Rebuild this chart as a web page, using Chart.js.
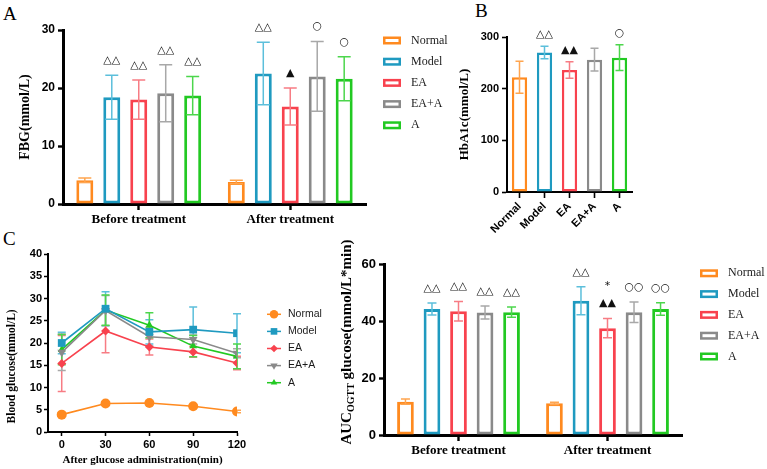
<!DOCTYPE html>
<html>
<head>
<meta charset="utf-8">
<script src="https://cdn.jsdelivr.net/npm/chart.js@4.4.1/dist/chart.umd.min.js"></script>
<style>
  body { margin: 0; width: 767px; height: 469px; background: #fff; position: relative; overflow: hidden; }
  canvas { position: absolute; }
  .panel { position: absolute; font-family: 'Liberation Serif', serif; font-size: 19px; line-height: 1; color: #000; }
</style>
</head>
<body>
<div class="panel" style="left:3px;top:4px">A</div>
<div class="panel" style="left:475px;top:1px">B</div>
<div class="panel" style="left:3px;top:229px">C</div>
<canvas id="chartA" width="470" height="232" style="left:0;top:0"></canvas>
<canvas id="chartB" width="200" height="240" style="left:440px;top:0"></canvas>
<canvas id="chartC" width="340" height="237" style="left:0;top:232px"></canvas>
<canvas id="chartD" width="437" height="244" style="left:330px;top:225px"></canvas>
<script>
const serif = "'Liberation Serif', 'Times New Roman', serif";
const sans = "'Liberation Sans', Arial, sans-serif";

const groups = ['Normal', 'Model', 'EA', 'EA+A', 'A'];
const phases = ['Before treatment', 'After treatment'];
const colors = ['#FF8A1F', '#1F9AC0', '#F8424E', '#8A8A8A', '#22C922'];
const errColors = ['#FFA54F', '#5CBFDB', '#F77C84', '#A8A8A8', '#4CD64C'];

// A: FBG
const fbgBefore = [4.1, 18.4, 18.0, 19.1, 18.7];
const fbgBeforeSd = [0.4, 3.8, 3.4, 4.9, 3.3];
const fbgAfter = [3.8, 22.5, 16.8, 22.0, 21.6];
const fbgAfterSd = [0.3, 5.4, 3.2, 6.0, 3.8];
const fbgBeforeMarks = ['', '△△', '△△', '△△', '△△'];
const fbgAfterMarks = ['', '△△', '▲', '○', '○'];
const fbgTicks = [0, 10, 20, 30];

// B: HbA1c
const hba1c = [222, 270, 236, 256, 260];
const hba1cSd = [31, 12, 16, 22, 25];
const hba1cMarks = ['', '△△', '▲▲', '', '○'];
const hba1cTicks = [0, 100, 200, 300];

// C: OGTT curves
const ogttTimes = [0, 30, 60, 90, 120];
const ogttNormal = [3.9, 6.4, 6.5, 5.8, 4.6];
const ogttNormalSd = [0.3, 0.3, 0.3, 0.3, 0.3];
const ogttModel = [20.0, 27.7, 22.5, 23.0, 22.2];
const ogttModelSd = [2.4, 3.8, 2.7, 5.1, 4.4];
const ogttEA = [15.4, 22.7, 19.1, 18.0, 15.5];
const ogttEASd = [6.3, 4.9, 1.8, 1.2, 1.5];
const ogttEAA = [17.9, 27.3, 21.4, 20.8, 17.7];
const ogttEAASd = [4.1, 3.4, 2.1, 1.0, 1.0];
const ogttA = [18.5, 27.4, 24.0, 19.3, 17.0];
const ogttASd = [3.4, 3.4, 2.8, 2.4, 2.8];
const ogttTicksY = [0, 5, 10, 15, 20, 25, 30, 35, 40];

// D: AUC of OGTT
const aucBefore = [11.7, 44.2, 43.4, 43.0, 43.1];
const aucBeforeSd = [0.9, 2.1, 3.4, 2.3, 1.8];
const aucAfter = [11.1, 47.1, 37.5, 43.1, 44.2];
const aucAfterSd = [0.4, 4.9, 3.4, 3.6, 2.2];
const aucBeforeMarks = ['', '△△', '△△', '△△', '△△'];
const aucAfterMarks = ['', '△△', '*\n▲▲', '○○', '○○'];
const aucTicks = [0, 20, 40, 60];
const aucTitle = ['AUC', 'OGTT', ' glucose(mmol/L*min)'];

function drawErrors(chart, o) {
    const ctx = chart.ctx
    const y = chart.scales.y
    ctx.save()
    chart.data.datasets.forEach((ds, i) => {
        if (!ds.sd) return
        chart.getDatasetMeta(i).data.forEach((el, j) => {
            const v = ds.data[j], sd = ds.sd[j]
            const x = el.x
            const t = y.getPixelForValue(v + sd), b = y.getPixelForValue(v - sd)
            ctx.strokeStyle = Array.isArray(ds.errColor) ? ds.errColor[j] : ds.errColor
            ctx.lineWidth = o.lineWidth
            ctx.beginPath()
            ctx.moveTo(x, t); ctx.lineTo(x, b)
            ctx.moveTo(x - o.cap, t); ctx.lineTo(x + o.cap, t)
            ctx.moveTo(x - o.cap, b); ctx.lineTo(x + o.cap, b)
            ctx.stroke()
            const m = ds.marks && ds.marks[j]
            if (m) {
                ctx.fillStyle = '#111'
                ctx.font = o.markFont
                ctx.textAlign = 'center'
                ctx.textBaseline = 'middle'
                m.split('\n').reverse().forEach((line, k) => {
                    ctx.fillText(line, x, t - o.markGap - k * o.markLine)
                })
            }
        })
    })
    ctx.restore()
}

const errorBars = {
    id: 'errorBars',
    beforeDatasetsDraw(chart, args, o) { if (o.behind) drawErrors(chart, o) },
    afterDatasetsDraw(chart, args, o) { if (!o.behind) drawErrors(chart, o) }
};

const sideLegend = {
    id: 'sideLegend',
    afterDraw(chart, args, o) {
        if (!o.display) return
        const ctx = chart.ctx
        ctx.save()
        ctx.font = o.font
        ctx.textBaseline = 'middle'
        ctx.textAlign = 'left'
        chart.data.datasets.forEach((ds, i) => {
            const y = o.y + i * o.step
            ctx.strokeStyle = ds.borderColor
            ctx.fillStyle = ds.borderColor
            if (o.marker) {
                ctx.lineWidth = 1.5
                ctx.beginPath(); ctx.moveTo(o.x, y); ctx.lineTo(o.x + o.w, y); ctx.stroke()
                Chart.helpers.drawPoint(ctx, {
                    pointStyle: ds.pointStyle, radius: ds.pointRadius * 0.85,
                    rotation: ds.pointRotation || 0, borderWidth: 0
                }, o.x + o.w / 2, y)
            } else {
                ctx.lineWidth = 2.5
                ctx.strokeRect(o.x + 1.25, y - 2.75, o.w - 2.5, 5.5)
            }
            ctx.fillStyle = '#1a1a1a'
            ctx.fillText(ds.label, o.textX, y)
        })
        ctx.restore()
    }
};

const subTitle = {
    id: 'subTitle',
    afterDraw(chart, args, o) {
        if (!o.display) return
        const ctx = chart.ctx
        const big = 'bold ' + o.size + 'px ' + serif
        const small = 'bold ' + Math.round(o.size * 0.68) + 'px ' + serif
        const parts = [[aucTitle[0], big, 0], [aucTitle[1], small, o.size * 0.3], [aucTitle[2], big, 0]]
        ctx.save()
        let total = 0
        parts.forEach(p => { ctx.font = p[1]; p.push(ctx.measureText(p[0]).width); total += p[3] })
        ctx.translate(o.x, o.y)
        ctx.rotate(-Math.PI / 2)
        ctx.fillStyle = '#000'
        ctx.textBaseline = 'middle'
        ctx.textAlign = 'left'
        let cx = -total / 2
        parts.forEach(p => { ctx.font = p[1]; ctx.fillText(p[0], cx, p[2]); cx += p[3] })
        ctx.restore()
    }
};

function yAxis(ticks, width, title, titleSize, titlePad, borderW, tickFont) {
    return {
        min: ticks[0], max: ticks[ticks.length - 1],
        afterBuildTicks: s => { s.ticks = ticks.map(v => ({ value: v })) },
        afterFit: s => { s.width = width },
        border: { color: '#000', width: borderW },
        grid: { drawOnChartArea: false, color: '#000', tickLength: 5, tickWidth: borderW * 0.8 },
        ticks: { color: '#000', font: { family: sans, size: tickFont, weight: 'bold' }, padding: 3 },
        title: {
            display: !!title, text: title, color: '#000',
            font: { family: serif, size: titleSize, weight: 'bold' },
            padding: { top: titlePad, bottom: 0 }
        }
    }
}

function catAxis(height, borderW, font, rotation) {
    return {
        afterFit: s => { s.height = height },
        border: { color: '#000', width: borderW },
        grid: { offset: false, drawOnChartArea: false, color: '#000', tickLength: 6, tickWidth: borderW * 0.8 },
        ticks: { color: '#000', font: font, padding: 2, minRotation: rotation, maxRotation: rotation }
    }
}

function barSets(before, beforeSd, after, afterSd, beforeMarks, afterMarks) {
    return groups.map((g, i) => ({
        label: g,
        data: [before[i], after[i]],
        sd: [beforeSd[i], afterSd[i]],
        marks: [beforeMarks[i], afterMarks[i]],
        borderColor: colors[i],
        errColor: errColors[i],
        backgroundColor: '#fff',
        borderWidth: 3,
        borderSkipped: false,
        categoryPercentage: 0.89,
        barPercentage: 0.63
    }))
}

const base = { responsive: false, animation: false, events: [] };

new Chart(document.getElementById('chartA'), {
    type: 'bar',
    data: { labels: phases, datasets: barSets(fbgBefore, fbgBeforeSd, fbgAfter, fbgAfterSd, fbgBeforeMarks, fbgAfterMarks) },
    options: {
        ...base,
        layout: { padding: { top: 30, right: 104, left: 0, bottom: 0 } },
        scales: {
            x: catAxis(28, 3, { family: serif, size: 13, weight: 'bold' }, 0),
            y: yAxis(fbgTicks, 63, 'FBG(mmol/L)', 14, 17, 3, 12)
        },
        plugins: {
            legend: { display: false }, tooltip: { enabled: false },
            errorBars: { cap: 6.5, lineWidth: 1.5, markGap: 15, markLine: 17, markFont: "11px 'DejaVu Sans'" },
            sideLegend: { display: true, x: 383, w: 18, textX: 411, y: 40.5, step: 21.2, font: '12px ' + serif }
        }
    },
    plugins: [errorBars, sideLegend]
});

new Chart(document.getElementById('chartB'), {
    type: 'bar',
    data: {
        labels: groups,
        datasets: [{
            label: 'HbA1c', data: hba1c, sd: hba1cSd, marks: hba1cMarks,
            borderColor: colors, errColor: errColors, backgroundColor: '#fff',
            borderWidth: 2.5, borderSkipped: false, categoryPercentage: 1, barPercentage: 0.61
        }]
    },
    options: {
        ...base,
        layout: { padding: { top: 37, right: 8, left: 0, bottom: 0 } },
        scales: {
            x: catAxis(48, 2, { family: sans, size: 11, weight: 'bold' }, 45),
            y: yAxis(hba1cTicks, 67, 'HbA1c(mmol/L)', 13, 17, 2, 11)
        },
        plugins: {
            legend: { display: false }, tooltip: { enabled: false },
            errorBars: { cap: 4, lineWidth: 1.5, markGap: 12, markLine: 16, markFont: "11px 'DejaVu Sans'" }
        }
    },
    plugins: [errorBars]
});

const ogttSeries = [ogttNormal, ogttModel, ogttEA, ogttEAA, ogttA];
const ogttSds = [ogttNormalSd, ogttModelSd, ogttEASd, ogttEAASd, ogttASd];
const pointStyles = ['circle', 'rect', 'rectRot', 'triangle', 'triangle'];
const pointRotations = [0, 0, 0, 180, 0];
const pointRadii = [5, 5.5, 4.5, 5, 4.5];

new Chart(document.getElementById('chartC'), {
    type: 'line',
    data: {
        labels: ogttTimes,
        datasets: groups.map((g, i) => ({
            label: g,
            data: ogttSeries[i],
            sd: ogttSds[i],
            borderColor: colors[i],
            backgroundColor: colors[i],
            errColor: errColors[i],
            pointStyle: pointStyles[i],
            pointRotation: pointRotations[i],
            pointRadius: pointRadii[i],
            pointBorderWidth: 0,
            borderWidth: 1.6,
            tension: 0
        }))
    },
    options: {
        ...base,
        layout: { padding: { top: 22, right: 103, left: 0, bottom: 0 } },
        scales: {
            x: {
                type: 'linear', min: -9.4, max: 120,
                afterBuildTicks: s => { s.ticks = ogttTimes.map(v => ({ value: v })) },
                afterFit: s => { s.height = 37 },
                border: { color: '#000', width: 2 },
                grid: { drawOnChartArea: false, color: '#000', tickLength: 4, tickWidth: 1.5 },
                ticks: { color: '#000', font: { family: sans, size: 11, weight: 'bold' }, padding: 2 },
                title: {
                    display: true, text: 'After glucose administration(min)', color: '#000',
                    font: { family: serif, size: 11, weight: 'bold' }, padding: { top: 0, bottom: 2 }
                }
            },
            y: {
                min: 0, max: 40,
                afterBuildTicks: s => { s.ticks = ogttTicksY.map(v => ({ value: v })) },
                afterFit: s => { s.width = 48 },
                border: { color: '#000', width: 2 },
                grid: { drawOnChartArea: false, color: '#000', tickLength: 4, tickWidth: 1.5 },
                ticks: { color: '#000', font: { family: sans, size: 11, weight: 'bold' }, padding: 2 },
                title: {
                    display: true, text: '   Blood glucose(mmol/L)', color: '#000', align: 'start',
                    font: { family: serif, size: 11.5, weight: 'bold' }, padding: { top: 5, bottom: 0 }
                }
            }
        },
        plugins: {
            legend: { display: false }, tooltip: { enabled: false },
            errorBars: { behind: true, cap: 4, lineWidth: 1.5, markGap: 0, markLine: 0, markFont: '10px sans-serif' },
            sideLegend: { display: true, marker: true, x: 267, w: 14, textX: 288, y: 82.3, step: 17.1, font: '10.5px ' + sans }
        }
    },
    plugins: [errorBars, sideLegend]
});

new Chart(document.getElementById('chartD'), {
    type: 'bar',
    data: { labels: phases, datasets: barSets(aucBefore, aucBeforeSd, aucAfter, aucAfterSd, aucBeforeMarks, aucAfterMarks) },
    options: {
        ...base,
        layout: { padding: { top: 39, right: 85, left: 0, bottom: 0 } },
        scales: {
            x: catAxis(34, 3, { family: serif, size: 13, weight: 'bold' }, 0),
            y: yAxis(aucTicks, 54, '', 14, 0, 3, 13)
        },
        plugins: {
            legend: { display: false }, tooltip: { enabled: false },
            errorBars: { cap: 4.5, lineWidth: 1.5, markGap: 15, markLine: 17, markFont: "11px 'DejaVu Sans'" },
            sideLegend: { display: true, x: 370, w: 18, textX: 398, y: 48.3, step: 20.8, font: '12px ' + serif },
            subTitle: { display: true, x: 17, y: 117, size: 15 }
        }
    },
    plugins: [errorBars, sideLegend, subTitle]
});
</script>
</body>
</html>
